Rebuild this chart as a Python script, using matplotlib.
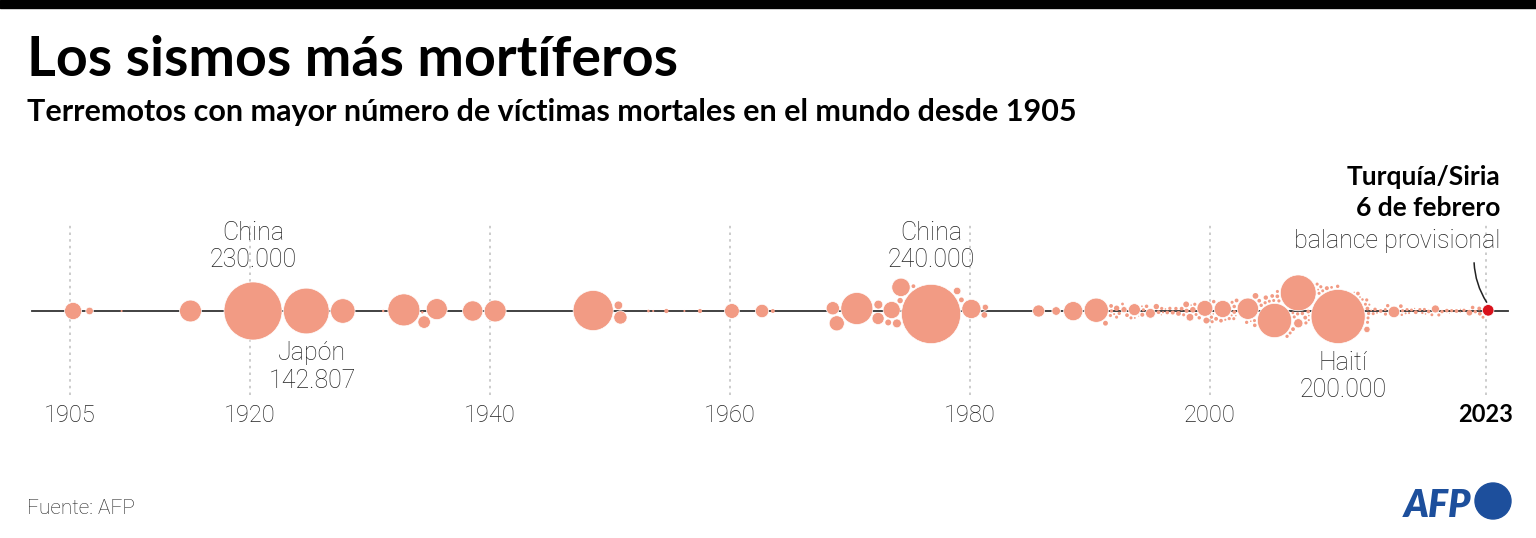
import numpy as np
import matplotlib.pyplot as plt
from matplotlib.patches import Circle, Rectangle

plt.rcParams['font.family'] = ['Lato', 'DejaVu Sans']
LIGERA = ['Roboto', 'DejaVu Sans']

# sismos 1905-1959: año (con fracción) y número de muertos
anios_a = [1905.26, 1906.63, 1909.3, 1915.04, 1920.96, 1923.67, 1927.39, 1931.1,
           1932.99, 1933.2, 1934.04, 1935.41, 1939.07, 1939.99, 1948.77, 1949.53,
           1950.62, 1953.2, 1953.6, 1954.7, 1956.2, 1957.5]
muertos_a = [20000, 3900, 300, 32600, 230000, 142807, 41000, 400,
             70000, 400, 10700, 30000, 28000, 32700, 110000, 12000,
             5000, 500, 300, 1250, 300, 1200]

# sismos 1960-1989
anios_b = [1960.16, 1962.67, 1963.57, 1968.66, 1970.01, 1970.42, 1972.27, 1972.98,
           1974.38, 1974.95, 1975.1, 1975.7, 1976.1, 1976.35, 1976.56, 1976.9,
           1977.2, 1978.71, 1980.78, 1980.9, 1985.72, 1987.18, 1988.93]
muertos_b = [15000, 12225, 1070, 12000, 15600, 70000, 5400, 10000,
             20000, 5300, 2000, 2400, 23000, 990, 240000, 3800,
             1580, 25000, 2600, 2900, 10000, 5000, 25000]

# sismos 1990-2022
anios_c = [1990.47, 1990.55, 1991.3, 1991.8, 1992.2, 1992.78, 1992.95, 1993.6,
           1993.75, 1994.05, 1994.45, 1994.1, 1995.05, 1995.4, 1995.8, 1996.1,
           1996.15, 1997.15, 1997.4, 1998.1, 1998.4, 1998.5, 1998.55, 1999.05,
           1999.63, 1999.72, 1999.9, 1999.7, 2001.04, 2001.07, 2001.15, 2001.45,
           2002.24, 2002.48, 2003.38, 2003.4, 2003.98, 2004.15, 2005.15, 2005.24,
           2005.77, 2006.41, 2006.55, 2007.62, 2008.37, 2008.83, 2009.27, 2009.75,
           2009.76, 2010.03, 2010.16, 2010.29, 2010.82, 2011.15, 2011.81, 2011.71,
           2012.61, 2013.3, 2013.73, 2013.79, 2014.59, 2015.32, 2015.82, 2016.3,
           2016.29, 2016.65, 2016.93, 2017.72, 2017.87, 2018.15, 2018.6, 2018.74,
           2019.9, 2020.83, 2021.04, 2021.62, 2022.47, 2022.89]
muertos_c = [40000, 1620, 270, 2000, 650, 545, 2500, 230,
             9750, 60, 1100, 207, 6434, 2000, 94, 300,
             166, 1100, 1570, 2320, 4000, 145, 2180, 1185,
             17127, 2415, 845, 143, 944, 20000, 315, 145,
             1000, 261, 2266, 177, 31000, 628, 612, 1300,
             80000, 5750, 668, 519, 87587, 215, 309, 1115,
             189, 200000, 525, 2700, 431, 185, 604, 111,
             306, 196, 825, 222, 617, 9000, 399, 676,
             273, 299, 104, 370, 630, 160, 560, 4340,
             51, 117, 105, 2248, 1036, 602]

# sismos menores 1990-2022 (estimados)
anios_d = [1990.9, 1991.1, 1991.6, 1992.5, 1993.1, 1993.4, 1994.5, 1994.9, 1995.3,
           1995.6, 1996.4, 1996.7, 1997.2, 1997.6, 1997.9, 1998.8, 1999.2, 1999.4,
           2000.1, 2000.4, 2000.7, 2001.3, 2001.6, 2001.9, 2002.1, 2002.7, 2003.1,
           2003.6, 2003.8, 2004.3, 2004.5, 2004.8, 2005.0, 2005.5, 2005.9, 2006.0,
           2006.2, 2006.7, 2006.9, 2007.1, 2007.4, 2007.8, 2008.1, 2008.5, 2008.6,
           2009.0, 2009.5, 2009.9, 2010.5, 2010.7, 2011.4, 2011.6, 2012.2, 2012.8,
           2013.1, 2013.5, 2014.2, 2014.9, 2015.1, 2015.6, 2016.1, 2016.8, 2017.2,
           2017.5, 2018.4, 2018.9, 2019.3, 2019.7, 2020.1, 2020.5, 2021.3, 2021.8,
           2022.2, 2022.7]
muertos_d = [800, 1000, 700, 750, 950, 650, 850, 700, 1000,
             700, 900, 750, 800, 650, 1000, 800, 700, 600,
             650, 1000, 750, 650, 850, 700, 650, 1000, 750,
             950, 650, 700, 800, 900, 600, 750, 650, 950,
             1000, 650, 700, 750, 950, 800, 700, 600, 1000,
             700, 950, 650, 800, 650, 950, 600, 700, 1000,
             750, 650, 950, 700, 800, 950, 700, 600, 1000,
             700, 900, 650, 800, 900, 700, 950, 750, 900,
             800, 950]

# Turquía/Siria, 6 de febrero de 2023 (balance provisional)
turquia_anio = 2023.1
turquia_muertos = 9000

anios_eje = [1905, 1920, 1940, 1960, 1980, 2000, 2023]

salmon = '#f29b84'
rojo = '#d9111b'
azul = '#1d4f9c'

# escala: 12 px por año, radio en px proporcional a la raíz de los muertos
PX = 12.0
K = 0.0605

anios = np.array(anios_a + anios_b + anios_c + anios_d + [turquia_anio])
muertos = np.array(muertos_a + muertos_b + muertos_c + muertos_d + [turquia_muertos], float)
radio = K * np.sqrt(muertos)


def colocar(tx, r, ticks=300, pad=0.7):
    # simulación de fuerzas tipo d3: forceX, forceY y colisión
    n = len(tx)
    x = tx.copy()
    y = -0.8 * np.sin(np.arange(n) * 2.39996)
    vx = np.zeros(n)
    vy = np.zeros(n)
    rr = r + pad
    R = rr[:, None] + rr[None, :]
    w = rr[None, :] ** 2 / (rr[:, None] ** 2 + rr[None, :] ** 2)
    alpha = 1.0
    decay = 1 - 0.001 ** (1 / ticks)
    for t in range(ticks + 100):
        alpha += -alpha * decay
        vx += (tx - x) * 0.1 * alpha
        vy += (0 - y) * 0.1 * alpha
        for _ in range(2):
            px = x + vx
            py = y + vy
            dx = px[:, None] - px[None, :]
            dy = py[:, None] - py[None, :]
            d2 = dx ** 2 + dy ** 2
            m = d2 < R ** 2
            np.fill_diagonal(m, False)
            d = np.sqrt(np.where(m, d2, 1.0))
            l = np.where(m, (R - d) / d, 0.0) * 0.9
            vx += (dx * l * w).sum(1)
            vy += (dy * l * w).sum(1)
        vx *= 0.6
        vy *= 0.6
        x += vx
        y += vy
    return x, y


xs, ys = colocar((anios - 1905) * PX, radio)
cx = 1905 + xs / PX
cy = -ys / PX
cr = radio / PX

W, H = 1536, 538
fig = plt.figure(figsize=(W / 100, H / 100), dpi=100)
ax = fig.add_axes([0, 0, 1, 1])
ax.set_xlim(1905 - 70 / PX, 1905 + (W - 70) / PX)
ax.set_ylim(-(H - 311) / PX, 311 / PX)
ax.axis('off')


def X(p):
    return 1905 + (p - 70) / PX


def Y(p):
    return (311 - p) / PX


fig.patches.append(Rectangle((0, 1 - 8 / H), 1, 8 / H, transform=fig.transFigure,
                             color='black', zorder=5))

ax.text(X(27), Y(76), 'Los sismos más mortíferos', fontsize=40, fontweight='bold',
        ha='left', va='baseline')
ax.text(X(27), Y(121), 'Terremotos con mayor número de víctimas mortales en el mundo desde 1905',
        fontsize=22, fontweight='bold', ha='left', va='baseline')

ax.vlines(anios_eje, Y(395), Y(225), colors='#c4c4c4', linestyles=(0, (1.5, 2.5)), lw=1.2, zorder=1)
ax.plot([X(32), X(1508)], [0, 0], color='#333333', lw=1.3, zorder=2)

orden = np.argsort(-radio)
for i in orden:
    col = rojo if i == len(anios) - 1 else salmon
    borde = 0.5 if radio[i] > 3 else 0
    ax.add_patch(Circle((cx[i], cy[i]), cr[i], facecolor=col, edgecolor='white',
                        lw=borde, zorder=3))

for a in anios_eje:
    if a == 2023:
        ax.text(a, Y(422), str(a), fontsize=17, fontweight='bold', ha='center', va='baseline')
    else:
        ax.text(a, Y(422), str(a), fontsize=17, family=LIGERA, fontweight='light',
                color='#222222', ha='center', va='baseline')


def etiqueta(valor, nombre, cifra, y1, y2, dx=0):
    i = int(np.argmin(np.abs(muertos - valor)))
    for txt, yy in ((nombre, y1), (cifra, y2)):
        ax.text(cx[i] + dx / PX, Y(yy), txt, fontsize=18, family=LIGERA, fontweight='light',
                color='#222222', ha='center', va='baseline')


etiqueta(230000, 'China', '230.000', 240, 267)
etiqueta(240000, 'China', '240.000', 240, 267)
etiqueta(142807, 'Japón', '142.807', 360, 388, dx=6)
etiqueta(200000, 'Haití', '200.000', 370, 397, dx=5)

ax.text(X(1500), Y(185), 'Turquía/Siria', fontsize=19, fontweight='bold', ha='right', va='baseline')
ax.text(X(1500), Y(216), '6 de febrero', fontsize=19, fontweight='bold', ha='right', va='baseline')
ax.text(X(1500), Y(248), 'balance provisional', fontsize=18, family=LIGERA, fontweight='light',
        color='#222222', ha='right', va='baseline')
it = len(anios) - 1
ax.annotate('', xy=(cx[it], cy[it] + cr[it]), xytext=(X(1474), Y(260)),
            arrowprops=dict(arrowstyle='-', color='#222222', lw=1.1,
                            connectionstyle='arc3,rad=0.15'), zorder=4)

ax.text(X(27), Y(514), 'Fuente: AFP', fontsize=15, family=LIGERA, fontweight='light',
        color='#222222', ha='left', va='baseline')
ax.text(X(1471), Y(517), 'AFP', fontsize=27, fontweight='heavy', style='italic',
        color=azul, ha='right', va='baseline')
ax.add_patch(Circle((X(1493), Y(501)), 18 / PX, color=azul, zorder=3))

fig.savefig('out.png', dpi=100, facecolor='white')
